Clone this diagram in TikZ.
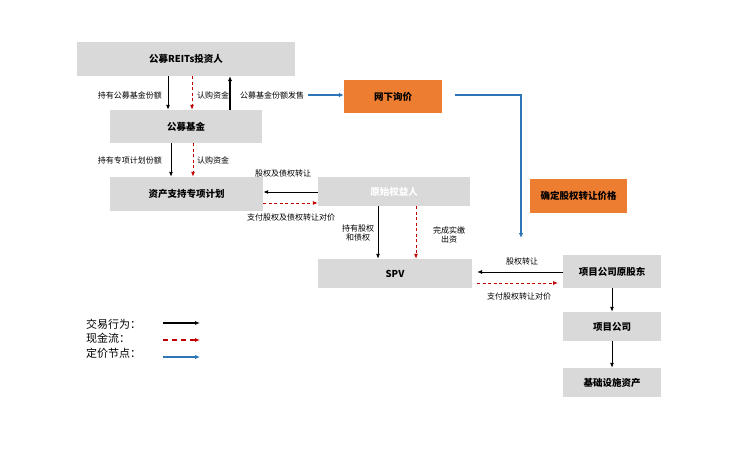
\documentclass[tikz,border=0pt]{standalone}
\usepackage{fontspec}
\setmainfont{Noto Sans CJK SC}
\usetikzlibrary{arrows.meta,calc}
\definecolor{boxgray}{HTML}{D9D9D9}
\definecolor{orangebox}{HTML}{ED7D31}
\definecolor{bluel}{HTML}{2E75B6}
\definecolor{redl}{HTML}{C00000}
\tikzset{
  gbox/.style={fill=boxgray,draw=none,inner sep=0pt,font=\fontsize{9.5}{11}\selectfont\bfseries},
  obox/.style={fill=orangebox,draw=none,inner sep=0pt,font=\fontsize{9.5}{11}\selectfont\bfseries},
  lbl/.style={inner sep=0pt,font=\fontsize{8}{9.5}\selectfont,align=center},
  leg/.style={inner sep=0pt,anchor=west,font=\fontsize{11}{12}\selectfont},
  blk/.style={draw=black,line width=0.9pt,-{Latex[length=5pt,width=4pt]}},
  cash/.style={draw=redl,line width=0.9pt,dashed,dash pattern=on 3pt off 2.5pt,-{Latex[length=5pt,width=4pt]}},
  price/.style={draw=bluel,line width=1.4pt,-{Latex[length=5pt,width=4.5pt]}},
}
\begin{document}
\begin{tikzpicture}[x=1pt,y=-1pt]
\useasboundingbox (0,0) rectangle (754,455);
% boxes
\node[gbox,minimum width=218,minimum height=34] (inv) at (186,59) {公募REITs投资人};
\node[gbox,minimum width=152,minimum height=33] (fund) at (186,126.5) {公募基金};
\node[gbox,minimum width=153,minimum height=34] (abs) at (186.5,194) {资产支持专项计划};
\node[gbox,minimum width=152,minimum height=29,text=white] (orig) at (394,191.5) {原始权益人};
\node[gbox,minimum width=154,minimum height=29] (spv) at (395,273.5) {SPV};
\node[obox,minimum width=98,minimum height=33] (xj) at (393,96.5) {网下询价};
\node[obox,minimum width=97,minimum height=34] (qd) at (578.5,196) {确定股权转让价格};
\node[gbox,minimum width=98,minimum height=33] (ygd) at (612,271.5) {项目公司原股东};
\node[gbox,minimum width=98,minimum height=29] (xm) at (612,326.5) {项目公司};
\node[gbox,minimum width=98,minimum height=29] (jc) at (612,382.5) {基础设施资产};
% helper coordinates
\coordinate (c168) at (168,0);
\coordinate (c192) at (192,0);
\coordinate (c230) at (230,0);
\coordinate (c171) at (171,0);
\coordinate (c193) at (193,0);
\coordinate (c378) at (378,0);
\coordinate (c416) at (416,0);
\coordinate (y192) at (0,192);
\coordinate (y203) at (0,203);
\coordinate (y272) at (0,272);
\coordinate (y283) at (0,283);
\coordinate (bs) at (308,95);
\coordinate (bx) at (455,95);
\coordinate (bc) at (521,95);
\coordinate (be) at (521,238);
\coordinate (sx) at (477,0);
\coordinate (rx) at (558,0);
% investor <-> fund
\draw[blk] (inv.south -| c168) -- (fund.north -| c168);
\draw[cash] (inv.south -| c192) -- (fund.north -| c192);
\draw[draw=black,line width=1.8pt,-{Latex[length=5pt,width=4.5pt]}] (fund.north -| c230) -- (inv.south -| c230);
\node[lbl,anchor=east] (l1) at (162,95) {持有公募基金份额};
\node[lbl,anchor=west] (l2) at (197,95) {认购资金};
\node[lbl,anchor=west] (l3) at (240,95) {公募基金份额发售};
% fund -> abs
\draw[blk] (fund.south -| c171) -- (abs.north -| c171);
\draw[cash] (fund.south -| c193) -- (abs.north -| c193);
\node[lbl,anchor=east] (l4) at (162,160) {持有专项计划份额};
\node[lbl,anchor=west] (l5) at (197,160) {认购资金};
% orig <-> abs
\draw[blk] (orig.west |- y192) -- (abs.east |- y192);
\draw[cash] (abs.east |- y203) -- (orig.west |- y203);
\node[lbl] (l6) at (283,173) {股权及债权转让};
\node[lbl] (l7) at (291,217) {支付股权及债权转让对价};
% orig -> spv
\draw[blk] (orig.south -| c378) -- (spv.north -| c378);
\draw[cash] (orig.south -| c416) -- (spv.north -| c416);
\node[lbl] (l8) at (358,233) {持有股权\\和债权};
\node[lbl] (l9) at (449,235) {完成实缴\\出资};
% ygd <-> spv
\draw[blk] (ygd.west |- y272) -- (sx |- y272);
\draw[cash] (sx |- y283) -- (rx |- y283);
\node[lbl] (l10) at (522,261) {股权转让};
\node[lbl] (l11) at (519,296) {支付股权转让对价};
% right column
\draw[blk] (ygd) -- (xm);
\draw[blk] (xm) -- (jc);
% pricing flow
\draw[price] (bs) -- (xj.west |- bs);
\draw[price] (bx) -- (bc) -- (be);
% legend
\node[leg] (g1) at (86,324) {交易行为：};
\node[leg] (g2) at (86,338.5) {现金流：};
\node[leg] (g3) at (86,353) {定价节点：};
\coordinate (a1) at (163,323);
\coordinate (a2) at (200,323);
\coordinate (b1) at (163,340);
\coordinate (b2) at (200,340);
\coordinate (d1) at (163,357);
\coordinate (d2) at (200,357);
\draw[blk,line width=1.3pt] (a1) -- (a2);
\draw[cash,line width=1.3pt,dash pattern=on 5pt off 4pt] (b1) -- (b2);
\draw[price,line width=1.3pt] (d1) -- (d2);
\end{tikzpicture}
\end{document}
